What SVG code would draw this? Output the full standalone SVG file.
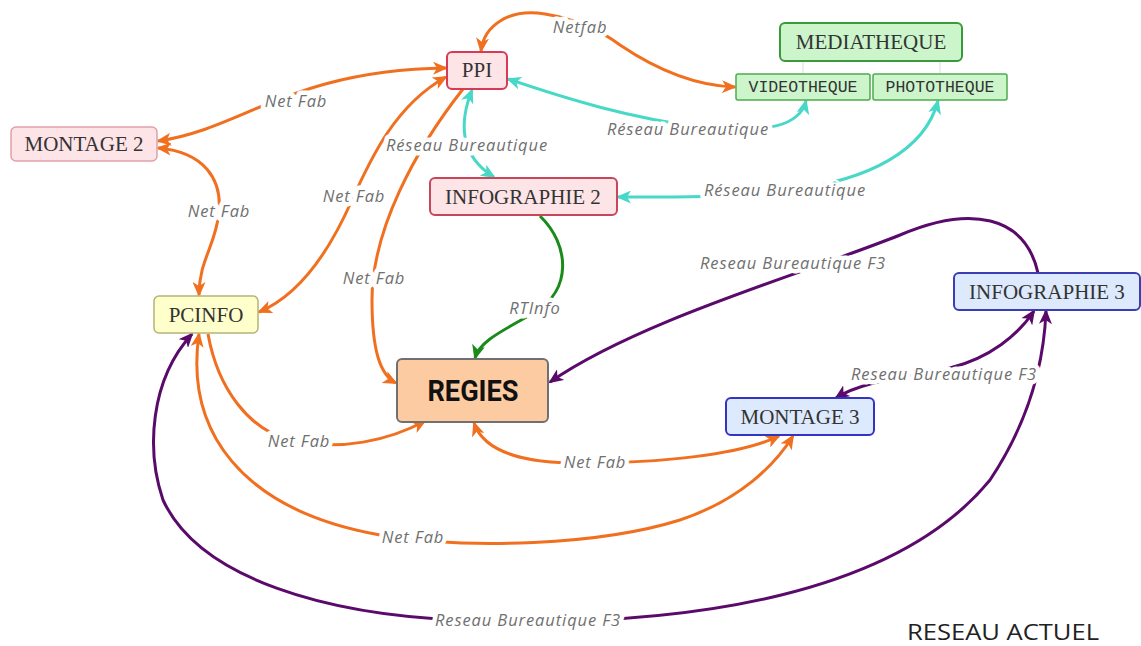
<svg xmlns="http://www.w3.org/2000/svg" width="1141" height="646" viewBox="0 0 1141 646">
<style>
.node text{font-family:"Liberation Serif","DejaVu Serif",serif;font-size:21px;fill:#333;text-anchor:middle}
.mono{font-family:"Liberation Mono","DejaVu Sans Mono",monospace!important;font-size:16.5px!important}
.c{fill:none;stroke-width:3}
.o{stroke:#f07020}
.p{stroke:#5a0a6a}
.t{stroke:#48d8c8}
.g{stroke:#1a8a1a}
.lbl{font-family:"Open Sans","Liberation Sans",sans-serif;font-style:italic;font-size:16.5px;letter-spacing:0.9px;fill:#707070;text-anchor:middle;stroke:#fff;stroke-width:9;paint-order:stroke;stroke-linejoin:round}
</style>
<defs>
<marker id="ao" markerUnits="userSpaceOnUse" markerWidth="15" markerHeight="13" viewBox="0 0 15 13" refX="13" refY="6.5" orient="auto-start-reverse"><path d="M0,0 L15,6.5 L0,13 L4,6.5 z" fill="#f07020"/></marker>
<marker id="ap" markerUnits="userSpaceOnUse" markerWidth="15" markerHeight="13" viewBox="0 0 15 13" refX="13" refY="6.5" orient="auto-start-reverse"><path d="M0,0 L15,6.5 L0,13 L4,6.5 z" fill="#5a0a6a"/></marker>
<marker id="at" markerUnits="userSpaceOnUse" markerWidth="15" markerHeight="13" viewBox="0 0 15 13" refX="13" refY="6.5" orient="auto-start-reverse"><path d="M0,0 L15,6.5 L0,13 L4,6.5 z" fill="#48d8c8"/></marker>
<marker id="ag" markerUnits="userSpaceOnUse" markerWidth="15" markerHeight="13" viewBox="0 0 15 13" refX="13" refY="6.5" orient="auto-start-reverse"><path d="M0,0 L15,6.5 L0,13 L4,6.5 z" fill="#1a8a1a"/></marker>
</defs>
<rect width="1141" height="646" fill="#fff"/>

<g id="connectors">
<line x1="803" y1="61" x2="803" y2="74" stroke="#dcdcdc" stroke-width="1"/>
<line x1="940" y1="61" x2="940" y2="74" stroke="#dcdcdc" stroke-width="1"/>
<path class="c o" marker-start="url(#ao)" marker-end="url(#ao)" d="M481 51 C484 25,510 8,545 14 C575 19,600 30,620 45 C660 72,700 86,735 87"/>
<path class="c o" marker-start="url(#ao)" marker-end="url(#ao)" d="M158 141 C240 130,290 70,446 68"/>
<path class="c o" marker-start="url(#ao)" marker-end="url(#ao)" d="M158 148 C205 152,222 180,219 212 C216 245,199 260,199 295"/>
<path class="c o" marker-start="url(#ao)" marker-end="url(#ao)" d="M446 77 C395 105,370 160,352 200 C330 250,300 295,259 312"/>
<path class="c o" marker-end="url(#ao)" d="M463 89 C415 150,372 230,372 300 C372 350,380 375,396 383"/>
<path class="c o" marker-end="url(#ao)" d="M208 334 C218 390,250 430,290 440 C340 452,390 440,425 421"/>
<path class="c o" marker-start="url(#ao)" marker-end="url(#ao)" d="M474 423 C485 455,530 463,580 463 C660 463,740 455,779 436"/>
<path class="c o" marker-start="url(#ao)" marker-end="url(#ao)" d="M199 334 C185 430,240 510,380 535 C470 550,600 545,680 520 C740 500,775 465,793 436"/>
<path class="c p" marker-start="url(#ap)" marker-end="url(#ap)" d="M192 334 C150 380,146 450,163 500 C200 580,330 615,460 620 C700 630,900 590,990 480 C1030 420,1044 360,1046 311"/>
<path class="c p" marker-end="url(#ap)" d="M1038 273 C1025 215,970 205,900 235 C800 275,640 320,550 382"/>
<path class="c p" marker-start="url(#ap)" marker-end="url(#ap)" d="M836 398 C860 382,900 378,950 368 C990 358,1018 335,1034 311"/>
<path class="c t" marker-start="url(#at)" marker-end="url(#at)" d="M472 90 C460 120,458 155,494 177"/>
<path class="c t" marker-start="url(#at)" marker-end="url(#at)" d="M508 79 C570 100,630 118,700 127 C770 134,800 125,806 101"/>
<path class="c t" marker-start="url(#at)" marker-end="url(#at)" d="M938 101 C925 150,870 180,790 190 C720 198,680 197,618 197"/>
<path class="c g" marker-end="url(#ag)" d="M540 216 C570 245,572 290,535 312 C505 330,480 340,475 358"/>
<text class="lbl" x="580" y="33">Netfab</text>
<text class="lbl" x="296" y="107">Net Fab</text>
<text class="lbl" x="219" y="217">Net Fab</text>
<text class="lbl" x="354" y="202">Net Fab</text>
<text class="lbl" x="374" y="284">Net Fab</text>
<text class="lbl" x="467" y="151">Réseau Bureautique</text>
<text class="lbl" x="688" y="135">Réseau Bureautique</text>
<text class="lbl" x="785" y="196">Réseau Bureautique</text>
<text class="lbl" x="535" y="314">RTInfo</text>
<text class="lbl" x="793" y="269">Reseau Bureautique F3</text>
<text class="lbl" x="944" y="380">Reseau Bureautique F3</text>
<text class="lbl" x="299" y="447">Net Fab</text>
<text class="lbl" x="595" y="468">Net Fab</text>
<text class="lbl" x="413" y="543">Net Fab</text>
<text class="lbl" x="528" y="626">Reseau Bureautique F3</text>
</g>

<g id="ppi" class="node"><rect x="447" y="52" width="60" height="37" rx="5" fill="#fde4e6" stroke="#d83a55" stroke-width="2"/><text x="477" y="77">PPI</text></g>
<g id="mediatheque" class="node"><rect x="780" y="23" width="182" height="38" rx="5" fill="#ccf5cc" stroke="#3a9a3a" stroke-width="2"/><text x="871" y="49">MEDIATHEQUE</text></g>
<g id="videotheque" class="node"><rect x="736" y="74" width="134" height="26" rx="2" fill="#ccf5cc" stroke="#4caa4c" stroke-width="1.5"/><text class="mono" x="803" y="92">VIDEOTHEQUE</text></g>
<g id="phototheque" class="node"><rect x="873" y="74" width="134" height="26" rx="2" fill="#ccf5cc" stroke="#4caa4c" stroke-width="1.5"/><text class="mono" x="940" y="92">PHOTOTHEQUE</text></g>
<g id="montage2" class="node"><rect x="11" y="127" width="146" height="34" rx="5" fill="#fde4e6" stroke="#e0a0aa" stroke-width="1.5"/><text x="84" y="151">MONTAGE 2</text></g>
<g id="infographie2" class="node"><rect x="430" y="178" width="187" height="37" rx="5" fill="#fde4e6" stroke="#c8465a" stroke-width="2"/><text x="523" y="204">INFOGRAPHIE 2</text></g>
<g id="pcinfo" class="node"><rect x="154" y="296" width="104" height="37" rx="5" fill="#ffffcc" stroke="#b4b478" stroke-width="1.5"/><text x="206" y="322">PCINFO</text></g>
<g id="regies" class="node"><rect x="397" y="359" width="151" height="63" rx="5" fill="#fdcba2" stroke="#707070" stroke-width="2"/><text x="473" y="401" textLength="91" lengthAdjust="spacingAndGlyphs" style="font-family:Roboto,'Liberation Sans',sans-serif;font-weight:bold;font-size:29px;fill:#111">REGIES</text></g>
<g id="infographie3" class="node"><rect x="954" y="273" width="186" height="37" rx="5" fill="#dde9fc" stroke="#3c3cb4" stroke-width="2"/><text x="1047" y="299">INFOGRAPHIE 3</text></g>
<g id="montage3" class="node"><rect x="726" y="398" width="148" height="37" rx="5" fill="#dde9fc" stroke="#3434c4" stroke-width="2"/><text x="800" y="424">MONTAGE 3</text></g>
<text x="907" y="640" textLength="192" lengthAdjust="spacingAndGlyphs" style="font-family:'Open Sans','Liberation Sans',sans-serif;font-size:22px;fill:#222">RESEAU ACTUEL</text>
</svg>
